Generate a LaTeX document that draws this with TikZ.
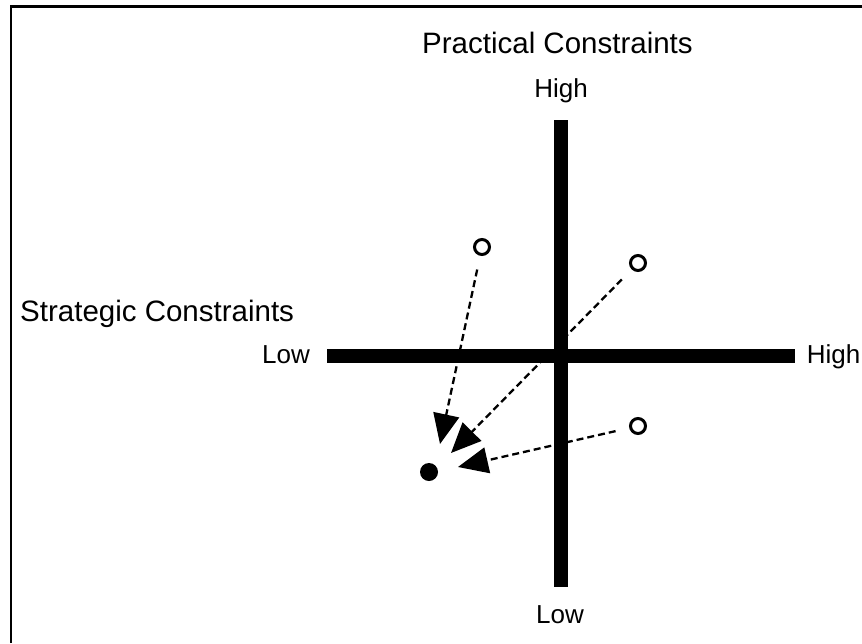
\documentclass[tikz,border=0pt]{standalone}
\usepackage{fontspec}
\setmainfont{Liberation Sans}
\usetikzlibrary{arrows.meta}
\begin{document}
\begin{tikzpicture}[x=1pt,y=-1pt,
  title/.style={inner sep=0pt,font=\fontsize{29.5}{32}\selectfont},
  lab/.style={inner sep=0pt,font=\fontsize{26}{28}\selectfont},
  bar/.style={line width=14pt},
  ring/.style={circle,draw,line width=3pt,fill=white,minimum size=15pt,inner sep=0pt},
  dot/.style={circle,fill=black,minimum size=18pt,inner sep=0pt},
  arr/.style={line width=2.3pt,dash pattern=on 7pt off 4pt,-{Triangle[length=30pt,width=26pt]},shorten <=14pt}]
\useasboundingbox (0,0) rectangle (862,643);
\fill[white] (0,0) rectangle (862,643);
\draw[line width=2.5pt] (11,643) -- (11,6.7) -- (862,6.7);
% axes
\coordinate (vt) at (561,120);
\coordinate (vb) at (561,587);
\coordinate (hl) at (327,356);
\coordinate (hr) at (795,356);
\draw[bar] (vt) -- (vb);
\draw[bar] (hl) -- (hr);
% labels
\node[title,anchor=base west] (pc) at (422,53) {Practical Constraints};
\node[title,anchor=base west] (sc) at (20,321) {Strategic Constraints};
\node[lab,anchor=base] (hightop) at (561,97) {High};
\node[lab,anchor=base] (lowbot) at (560,623) {Low};
\node[lab,anchor=base west] (lowleft) at (262,363) {Low};
\node[lab,anchor=base east] (highright) at (860.5,363) {High};
% points
\node[ring] (c1) at (482,247) {};
\node[ring] (c2) at (638,263) {};
\node[ring] (c3) at (638,426) {};
\node[dot] (d) at (429,472) {};
\coordinate (t1) at (440,444);
\coordinate (t2) at (451,453);
\coordinate (t3) at (458,467);
\draw[arr] (c1) -- (t1);
\draw[arr] (c2) -- (t2);
\draw[arr] (c3) -- (t3);
\end{tikzpicture}
\end{document}
